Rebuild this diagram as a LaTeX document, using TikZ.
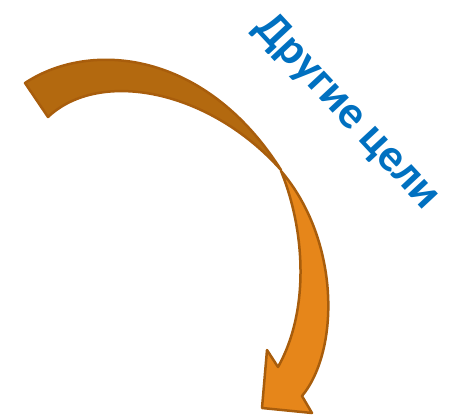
\documentclass[tikz,border=0pt]{standalone}
\usepackage{fontspec}
\setmainfont{Carlito}
\definecolor{arrowback}{HTML}{B3690F}
\definecolor{arrowfront}{HTML}{E6861A}
\definecolor{arrowedge}{HTML}{A85D0C}
\definecolor{goalblue}{HTML}{0070C0}
\tikzset{
    backband/.style={fill=arrowback, draw=arrowedge, line width=2.5pt, line join=round},
    frontband/.style={fill=arrowfront, draw=arrowedge, line width=2.5pt, line join=round},
    goallabel/.style={text=goalblue, font=\fontsize{46}{50}\selectfont\bfseries,
        rotate=-47, inner sep=0pt}
}

\begin{document}
\begin{tikzpicture}[x=1pt, y=-1pt]
\useasboundingbox (0,0) rectangle (454,417);
\draw[backband] (25,83) .. controls (90,40) and (205,50) .. (281,170)
    .. controls (210,90) and (100,68) .. (48,117) -- cycle;
\draw[frontband] (281,171) .. controls (305,230) and (310,310) .. (278,367)
    -- (267,350) -- (262,408) -- (312,413) -- (302,396)
    .. controls (340,350) and (340,240) .. (281,171) -- cycle;
\node[goallabel] (goals) at (347,112) {Другие цели};
\end{tikzpicture}
\end{document}
